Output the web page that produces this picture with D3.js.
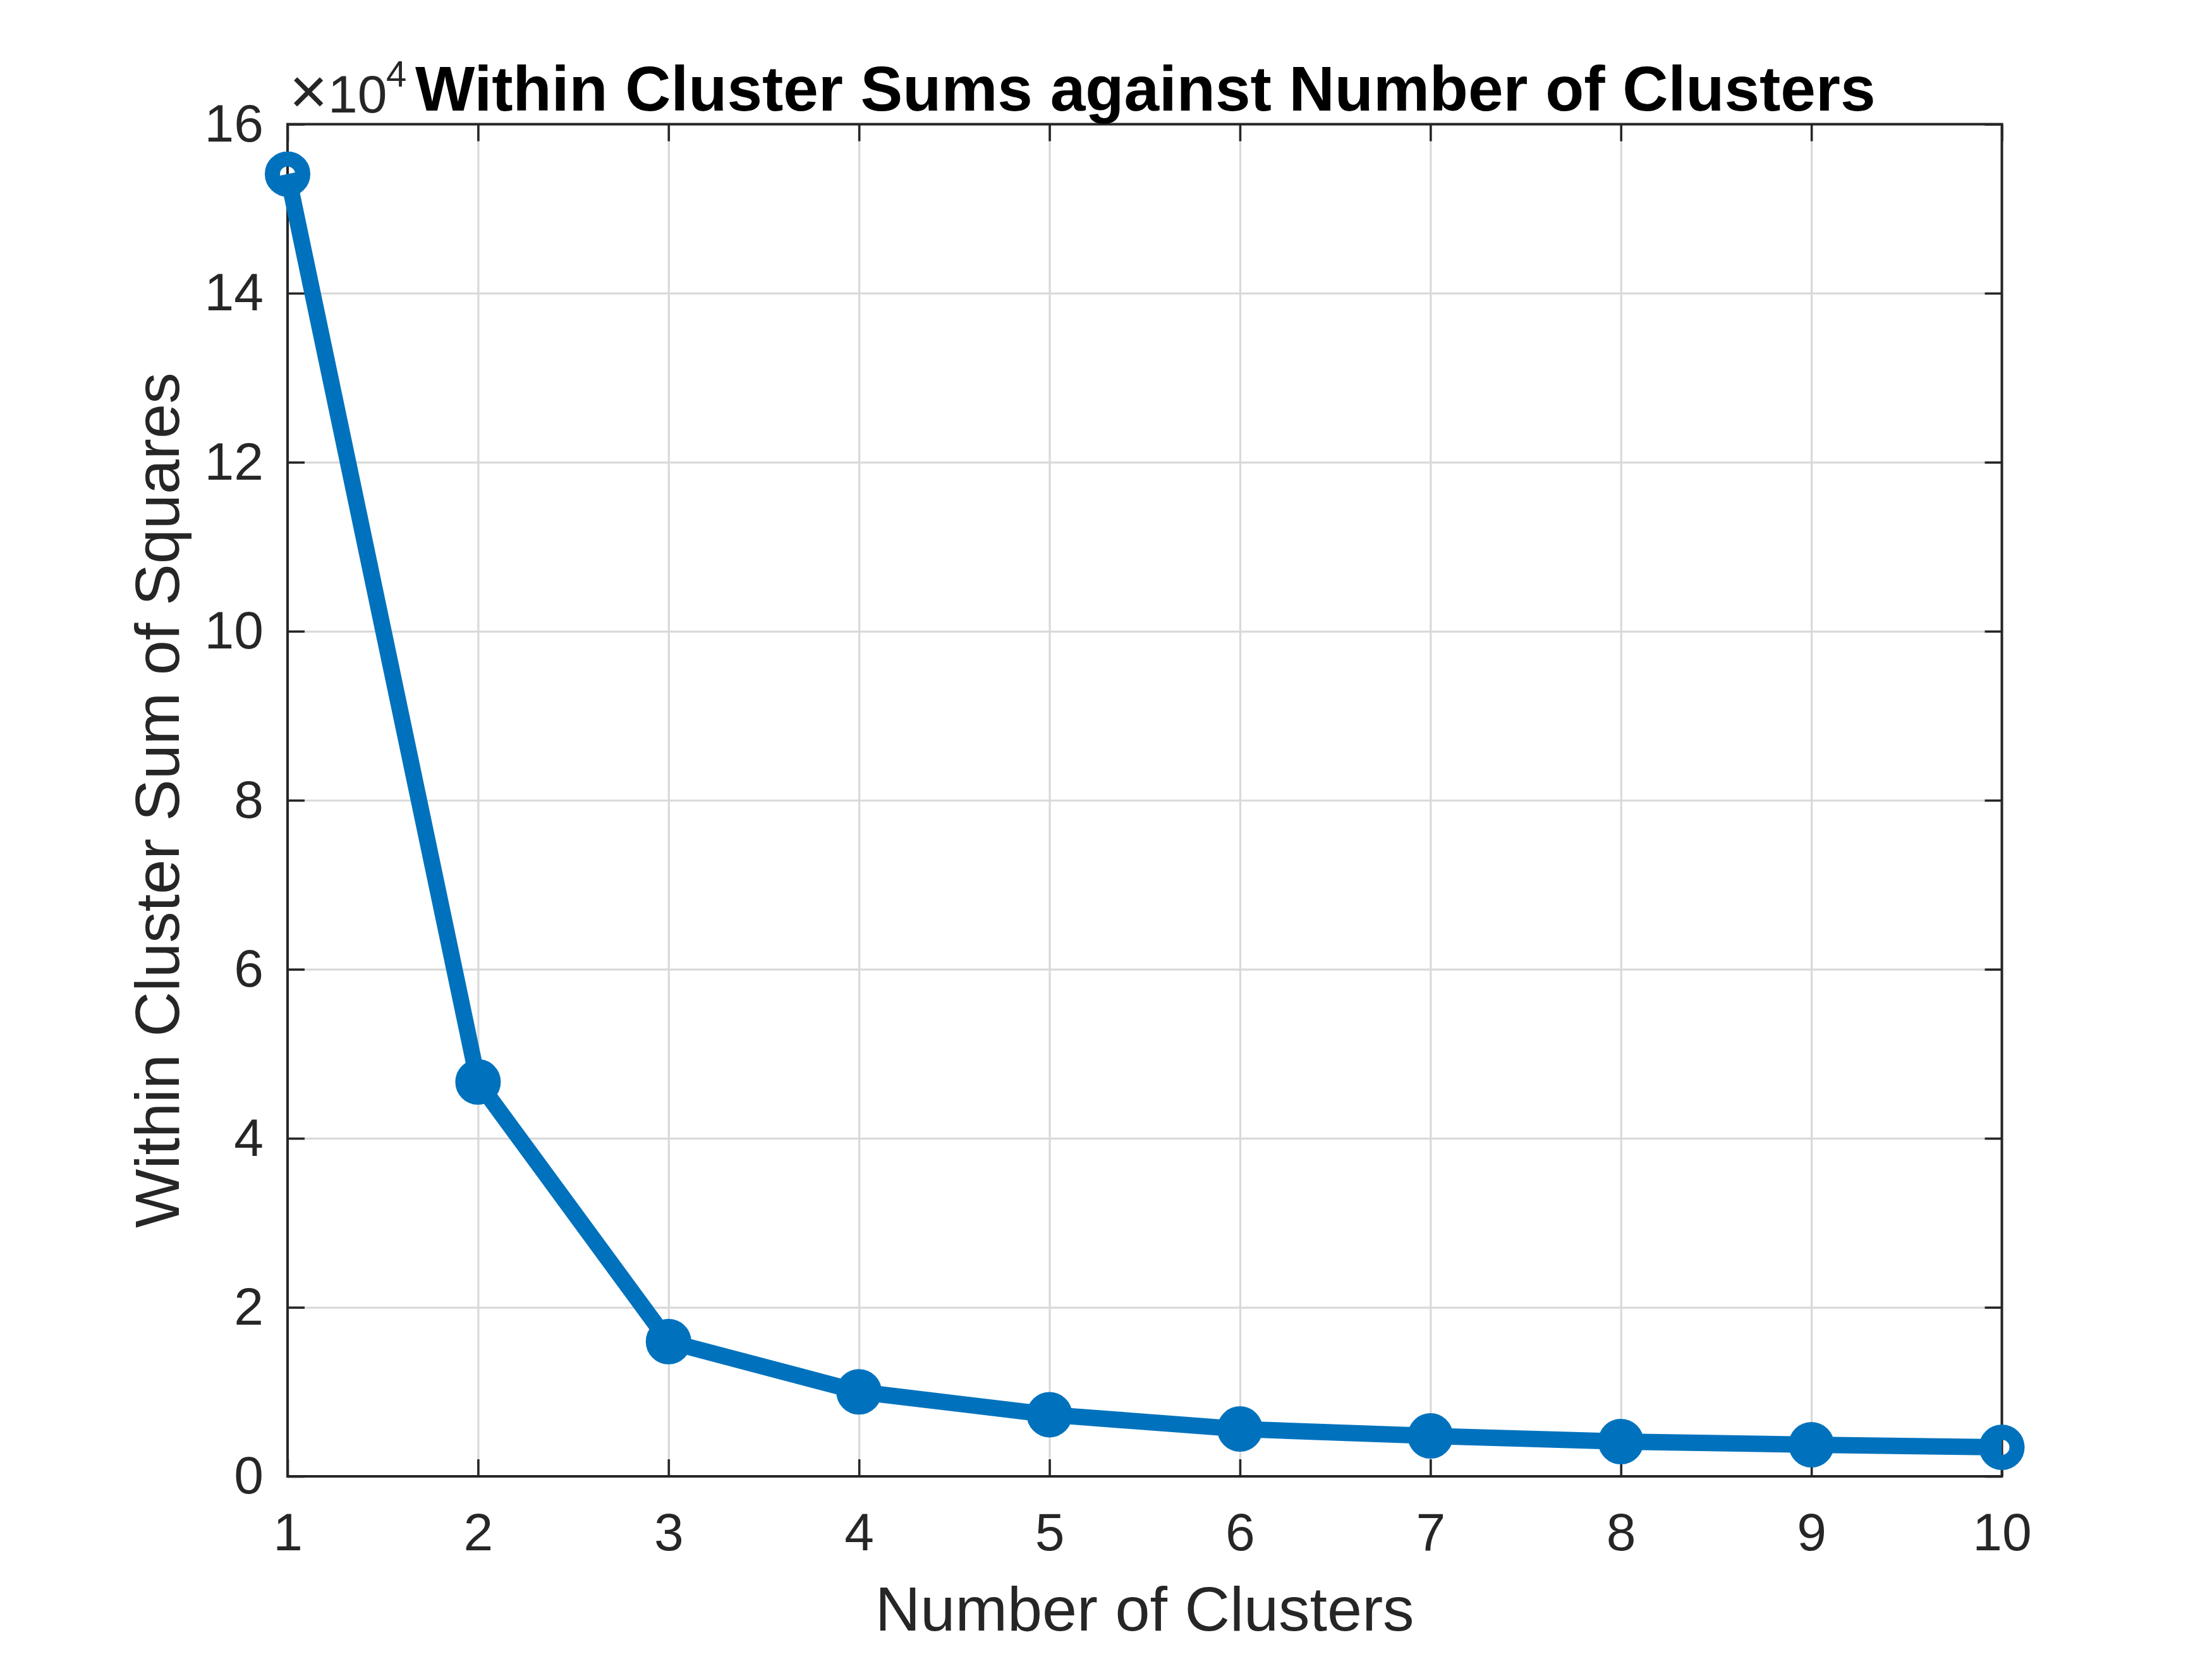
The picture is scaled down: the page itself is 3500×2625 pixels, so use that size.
<!DOCTYPE html>
<html>
<head>
<meta charset="utf-8">
<script src="https://cdn.jsdelivr.net/npm/d3@7"></script>
<style>
  html, body { margin: 0; padding: 0; background: #ffffff; }
  svg { display: block; }
</style>
</head>
<body>
<script>
// ---- data ----
const clusters = [1, 2, 3, 4, 5, 6, 7, 8, 9, 10];
const withinSS = [154100, 46670, 15950, 10000, 7300, 5600, 4780, 4110, 3740, 3440];
const xTicks = [1, 2, 3, 4, 5, 6, 7, 8, 9, 10];
const yTicks = [0, 20000, 40000, 60000, 80000, 100000, 120000, 140000, 160000];
const yTickLabels = ["0", "2", "4", "6", "8", "10", "12", "14", "16"];
const titleText = "Within Cluster Sums against Number of Clusters";
const xLabelText = "Number of Clusters";
const yLabelText = "Within Cluster Sum of Squares";

(function () {
// ---- layout ----
const W = 3500, H = 2625;
const mL = 455, mR = 3167.5, mT = 196.5, mB = 2336;
const textColor = "#262626";
const lineColor = "#0072BD";
const font = "'Liberation Sans', Arial, Helvetica, sans-serif";

const svg = d3.select("body").append("svg")
  .attr("width", W).attr("height", H)
  .style("background", "#fff");

const x = d3.scaleLinear().domain([1, 10]).range([mL, mR]);
const y = d3.scaleLinear().domain([0, 160000]).range([mB, mT]);

const pw = mR - mL, ph = mB - mT;

// ---- grid ----
const gridX = svg.append("g").attr("transform", `translate(0,${mB})`)
  .call(d3.axisBottom(x).tickValues(xTicks).tickSize(-ph).tickFormat(""));
const gridY = svg.append("g").attr("transform", `translate(${mL},0)`)
  .call(d3.axisLeft(y).tickValues(yTicks).tickSize(-pw).tickFormat(""));
[gridX, gridY].forEach(g => {
  g.select(".domain").remove();
  g.selectAll("line").attr("stroke", "#d9d9d9").attr("stroke-width", 3.2);
});

// ---- axes (inward ticks on all four sides) ----
const tl = 27;
const styleAxis = g => {
  g.select(".domain").remove();
  g.selectAll("line").attr("stroke", textColor).attr("stroke-width", 3.6);
  g.selectAll("text").attr("fill", textColor).attr("font-family", font).attr("font-size", 84);
};
svg.append("g").attr("transform", `translate(0,${mB})`)
  .call(d3.axisBottom(x).tickValues(xTicks).tickSize(-tl).tickSizeOuter(0).tickPadding(57).tickFormat(d3.format("d")))
  .call(styleAxis);
svg.append("g").attr("transform", `translate(0,${mT})`)
  .call(d3.axisTop(x).tickValues(xTicks).tickSize(-tl).tickSizeOuter(0).tickFormat(""))
  .call(styleAxis);
svg.append("g").attr("transform", `translate(${mL},0)`)
  .call(d3.axisLeft(y).tickValues(yTicks).tickSize(-tl).tickSizeOuter(0).tickPadding(38)
    .tickFormat((d, i) => yTickLabels[i]))
  .call(styleAxis);
svg.append("g").attr("transform", `translate(${mR},0)`)
  .call(d3.axisRight(y).tickValues(yTicks).tickSize(-tl).tickSizeOuter(0).tickFormat(""))
  .call(styleAxis);

// box
svg.append("rect")
  .attr("x", mL).attr("y", mT).attr("width", pw).attr("height", ph)
  .attr("fill", "none").attr("stroke", textColor).attr("stroke-width", 4);

// ---- data line + markers ----
const pts = clusters.map((c, i) => [c, withinSS[i]]);
svg.append("path")
  .datum(pts)
  .attr("d", d3.line().x(d => x(d[0])).y(d => y(d[1])))
  .attr("fill", "none")
  .attr("stroke", lineColor)
  .attr("stroke-width", 26)
  .attr("stroke-linejoin", "round");
svg.append("g").selectAll("circle").data(pts).join("circle")
  .attr("cx", d => x(d[0])).attr("cy", d => y(d[1]))
  .attr("r", 24)
  .attr("fill", "none")
  .attr("stroke", lineColor)
  .attr("stroke-width", 24);

// ---- exponent ----
svg.append("text").attr("x", 488).attr("y", 180).attr("text-anchor", "middle")
  .attr("fill", textColor).attr("font-family", font).attr("font-size", 104)
  .attr("font-weight", 300).text("\u00D7");
svg.append("text").attr("x", 519).attr("y", 178).attr("fill", textColor)
  .attr("font-family", font).attr("font-size", 84).text("10");
svg.append("text").attr("x", 611).attr("y", 137).attr("fill", textColor)
  .attr("font-family", font).attr("font-size", 58).text("4");

// ---- title ----
svg.append("text")
  .attr("x", (mL + mR) / 2 + 1).attr("y", 175)
  .attr("text-anchor", "middle")
  .attr("font-family", font).attr("font-weight", "bold").attr("font-size", 100)
  .attr("fill", "#000").text(titleText);

// ---- axis labels ----
svg.append("text")
  .attr("x", (mL + mR) / 2).attr("y", 2580)
  .attr("text-anchor", "middle")
  .attr("font-family", font).attr("font-size", 99)
  .attr("fill", textColor).text(xLabelText);
svg.append("text")
  .attr("transform", `translate(283,${(mT + mB) / 2}) rotate(-90)`)
  .attr("text-anchor", "middle")
  .attr("font-family", font).attr("font-size", 99)
  .attr("fill", textColor).text(yLabelText);
})();
</script>
</body>
</html>
